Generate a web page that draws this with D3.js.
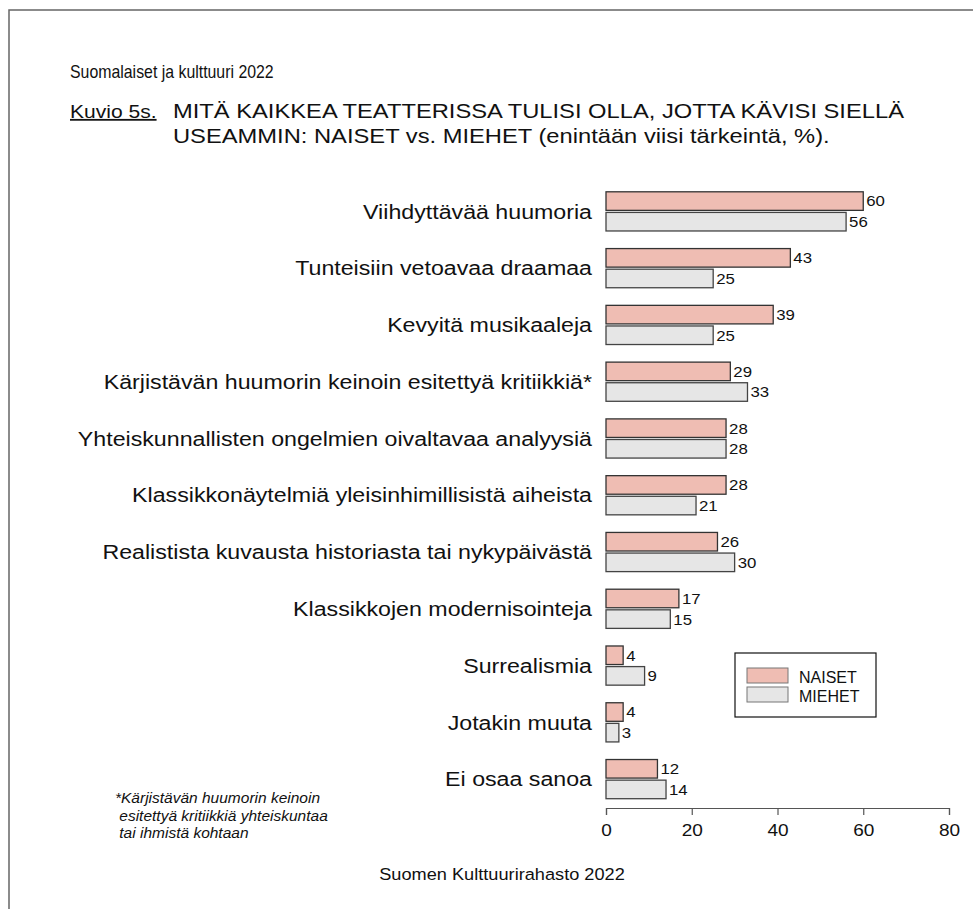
<!DOCTYPE html>
<html>
<head>
<meta charset="utf-8">
<script src="https://cdn.jsdelivr.net/npm/d3@7"></script>
<style>
  body { margin: 0; background: #fff; }
  svg text { font-family: "Liberation Sans", Arial, sans-serif; fill: #111; }
</style>
</head>
<body>
<div id="chart"></div>
<script>

var categories = ['Viihdyttävää huumoria', 'Tunteisiin vetoavaa draamaa', 'Kevyitä musikaaleja',
  'Kärjistävän huumorin keinoin esitettyä kritiikkiä*', 'Yhteiskunnallisten ongelmien oivaltavaa analyysiä',
  'Klassikkonäytelmiä yleisinhimillisistä aiheista', 'Realistista kuvausta historiasta tai nykypäivästä',
  'Klassikkojen modernisointeja', 'Surrealismia', 'Jotakin muuta', 'Ei osaa sanoa'];
var naiset = [60, 43, 39, 29, 28, 28, 26, 17, 4, 4, 12];
var miehet = [56, 25, 25, 33, 28, 21, 30, 15, 9, 3, 14];
var series = ['NAISET', 'MIEHET'];
var xTicks = [0, 20, 40, 60, 80];
var footnote = ['*Kärjistävän huumorin keinoin', ' esitettyä kritiikkiä yhteiskuntaa', ' tai ihmistä kohtaan'];

var width = 973, height = 909;
var colors = {NAISET: '#efbdb3', MIEHET: '#e6e6e6'};
var strokes = {NAISET: '#333', MIEHET: '#444'};

// text in the original is a bit wider than Arial, so stretch it sideways
function place(sel, x, y, sx) {
  return sel.attr('transform', 'translate(' + x + ',' + y + ') scale(' + sx + ',1)');
}

var svg = d3.select('#chart').append('svg')
  .attr('width', width).attr('height', height);

// frame
svg.append('rect')
  .attr('x', 9).attr('y', 10).attr('width', 1000).attr('height', 1000)
  .attr('fill', 'none').attr('stroke', '#666').attr('stroke-width', 1.5);

place(svg.append('text'), 70, 78, 0.835)
  .style('font-size', '19px').text('Suomalaiset ja kulttuuri 2022');

place(svg.append('text'), 70, 118, 1.17)
  .style('font-size', '18px').style('text-decoration', 'underline').text('Kuvio 5s.');

place(svg.append('text'), 173, 118, 1.13)
  .style('font-size', '21px').text('MITÄ KAIKKEA TEATTERISSA TULISI OLLA, JOTTA KÄVISI SIELLÄ');
place(svg.append('text'), 173, 143, 1.13)
  .style('font-size', '21px').text('USEAMMIN: NAISET vs. MIEHET (enintään viisi tärkeintä, %).');

var x = d3.scaleLinear().domain([0, 80]).range([606, 949]);
var y = d3.scaleBand().domain(categories).range([183, 807.5])
  .paddingInner(0.31).paddingOuter(0.155);
var y1 = d3.scaleBand().domain(series).range([0, y.bandwidth()]).paddingInner(0.1);

var rows = categories.map(function(c, i) {
  return {cat: c, vals: [{key: 'NAISET', v: naiset[i]}, {key: 'MIEHET', v: miehet[i]}]};
});

var g = svg.selectAll('.grp')
  .data(rows)
  .enter().append('g')
  .attr('class', 'grp')
  .attr('transform', function(d) { return 'translate(0,' + y(d.cat) + ')'; });

g.append('text')
  .attr('transform', 'translate(592,' + (y.bandwidth() / 2) + ') scale(1.16,1)')
  .attr('dy', '0.36em')
  .attr('text-anchor', 'end')
  .style('font-size', '20px')
  .text(function(d) { return d.cat; });

g.selectAll('rect')
  .data(function(d) { return d.vals; })
  .enter().append('rect')
  .attr('x', x(0))
  .attr('y', function(d) { return y1(d.key); })
  .attr('width', function(d) { return x(d.v) - x(0); })
  .attr('height', y1.bandwidth())
  .attr('fill', function(d) { return colors[d.key]; })
  .attr('stroke', function(d) { return strokes[d.key]; })
  .attr('stroke-width', 1.3);

g.selectAll('.val')
  .data(function(d) { return d.vals; })
  .enter().append('text')
  .attr('class', 'val')
  .attr('transform', function(d) {
    return 'translate(' + (x(d.v) + 3) + ',' + (y1(d.key) + y1.bandwidth() / 2) + ') scale(1.12,1)';
  })
  .attr('dy', '0.36em')
  .style('font-size', '15px')
  .text(function(d) { return d.v; });

// x axis
var ax = svg.append('g')
  .attr('transform', 'translate(0,808)')
  .call(d3.axisBottom(x).tickValues(xTicks).tickSize(7).tickPadding(9));
ax.select('.domain').attr('stroke', '#555').attr('stroke-width', 1.2);
ax.selectAll('.tick line').attr('stroke', '#555').attr('stroke-width', 1.2);
ax.selectAll('.tick text')
  .attr('transform', 'scale(1.12,1)')
  .style('font-family', '"Liberation Sans", Arial, sans-serif')
  .style('font-size', '17px').attr('fill', '#111');

// legend
var legend = svg.append('g');
legend.append('rect')
  .attr('x', 735).attr('y', 653).attr('width', 141).attr('height', 64)
  .attr('fill', '#fff').attr('stroke', '#111').attr('stroke-width', 1.2);

legend.selectAll('.sw')
  .data(series)
  .enter().append('rect')
  .attr('class', 'sw')
  .attr('x', 747)
  .attr('y', function(d, i) { return 668 + i * 19; })
  .attr('width', 41).attr('height', 15)
  .attr('fill', function(d) { return colors[d]; })
  .attr('stroke', '#777').attr('stroke-width', 1);

legend.selectAll('.lt')
  .data(series)
  .enter().append('text')
  .attr('class', 'lt')
  .attr('x', 799)
  .attr('y', function(d, i) { return 683 + i * 19; })
  .style('font-size', '16px')
  .text(function(d) { return d; });

// footnote
svg.selectAll('.fn')
  .data(footnote)
  .enter().append('text')
  .attr('class', 'fn')
  .attr('transform', function(d, i) { return 'translate(115,' + (803 + i * 17.5) + ') scale(1.07,1)'; })
  .style('font-size', '14.5px')
  .style('font-style', 'italic')
  .style('white-space', 'pre')
  .text(function(d) { return d; });

place(svg.append('text'), 502, 880, 1.07)
  .attr('text-anchor', 'middle')
  .style('font-size', '17px')
  .text('Suomen Kulttuurirahasto 2022');

</script>
</body>
</html>
